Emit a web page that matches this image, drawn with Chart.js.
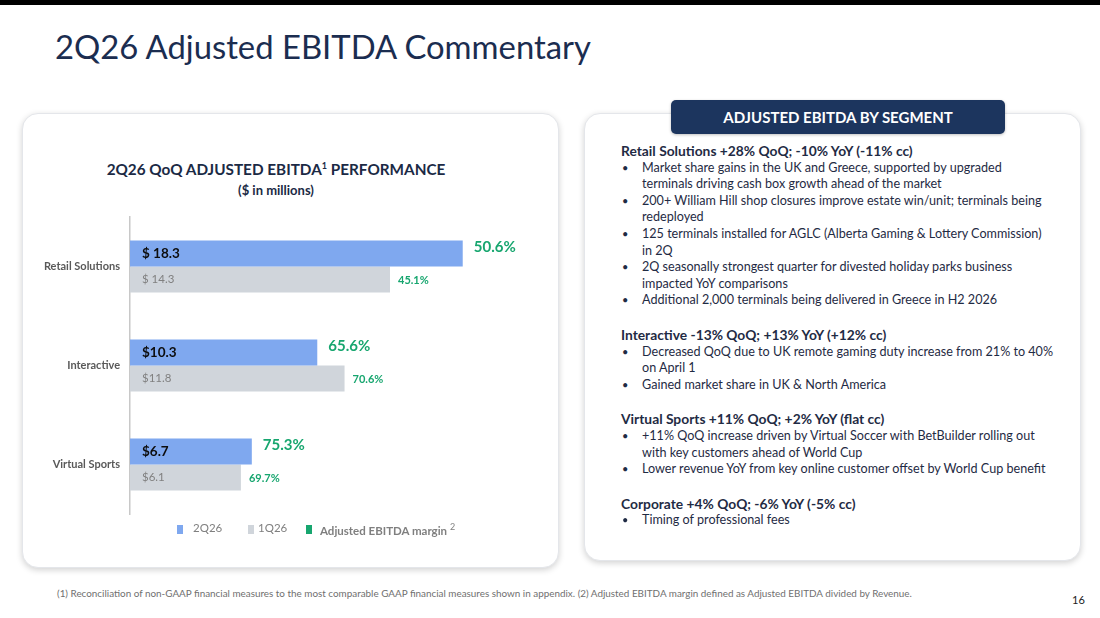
<!DOCTYPE html>
<html>
<head>
<meta charset="utf-8">
<script src="https://cdn.jsdelivr.net/npm/chart.js@4.4.1/dist/chart.umd.min.js"></script>
<style>
  body { margin: 0; width: 1100px; height: 618px; background: #fff; position: relative; overflow: hidden; font-family: Lato, "Open Sans", sans-serif; }
  .topbar { position: absolute; left: 0; top: 0; width: 1100px; height: 5px; background: #000; }
  .title { position: absolute; left: 55px; top: 27px; font-size: 32.8px; color: #1b2d50; white-space: nowrap; }
  .card { position: absolute; background: #fff; border: 1px solid #e4e6ea; border-radius: 16px; box-shadow: 0 2px 6px rgba(0,0,0,0.18); }
  #left { left: 22px; top: 113px; width: 535px; height: 453px; }
  #right { left: 584px; top: 113px; width: 495px; height: 446px; }
  .hdr { position: absolute; left: 671px; top: 100px; width: 334px; height: 34px; background: #1c355e; border-radius: 5px; color: #fff; font-weight: bold; font-size: 15px; text-align: center; line-height: 34px; box-shadow: 0 1px 3px rgba(0,0,0,0.25); }
  .ctitle { position: absolute; left: 76px; width: 400px; text-align: center; color: #1b2a45; font-weight: bold; white-space: nowrap; }
  .ctitle sup { font-size: 9px; }
  #wrap { position: absolute; left: 22px; top: 113px; width: 536px; height: 454px; }
  .leg { position: absolute; top: 521px; font-size: 11.5px; color: #7f7f7f; white-space: nowrap; }
  .sq { position: absolute; top: 525px; width: 6px; height: 9px; }
  .txt { position: absolute; left: 621px; top: 143px; font-size: 12.6px; color: #1f2b44; line-height: 16.6px; white-space: nowrap; }
  .txt .h { font-weight: bold; font-size: 13.8px; }
  .txt .b { position: relative; padding-left: 21px; }
  .txt .b::before { content: "\2022"; position: absolute; left: 1px; font-size: 11px; }
  .txt .gap { height: 18px; }
  .foot { position: absolute; left: 57px; top: 587px; font-size: 9.9px; color: #6f6f6f; white-space: nowrap; }
  .pg { position: absolute; left: 1072px; top: 593px; font-size: 11px; color: #222; }
</style>
</head>
<body>
<div class="topbar"></div>
<div class="title">2Q26 Adjusted EBITDA Commentary</div>

<div class="card" id="left"></div>
<div class="card" id="right"></div>
<div class="hdr">ADJUSTED EBITDA BY SEGMENT</div>

<div class="ctitle" style="top:160px;font-size:15.3px;">2Q26 QoQ ADJUSTED EBITDA<sup>1</sup> PERFORMANCE</div>
<div class="ctitle" style="top:182px;font-size:13px;">($ in millions)</div>

<div id="wrap"><canvas id="chart"></canvas></div>

<div class="sq" style="left:177px;background:#7fa8ef;"></div>
<div class="leg" style="left:193px;">2Q26</div>
<div class="sq" style="left:248px;background:#d0d5db;"></div>
<div class="leg" style="left:258px;">1Q26</div>
<div class="sq" style="left:306px;background:#17a66f;"></div>
<div class="leg" style="left:320px;font-weight:bold;">Adjusted EBITDA margin<sup style="font-weight:normal;font-size:9px;margin-left:3px;">2</sup></div>

<div class="txt">
  <div class="h">Retail Solutions +28% QoQ; -10% YoY (-11% cc)</div>
  <div class="b">Market share gains in the UK and Greece, supported by upgraded<br>terminals driving cash box growth ahead of the market</div>
  <div class="b">200+ William Hill shop closures improve estate win/unit; terminals being<br>redeployed</div>
  <div class="b">125 terminals installed for AGLC (Alberta Gaming &amp; Lottery Commission)<br>in 2Q</div>
  <div class="b">2Q seasonally strongest quarter for divested holiday parks business<br>impacted YoY comparisons</div>
  <div class="b">Additional 2,000 terminals being delivered in Greece in H2 2026</div>
  <div class="gap"></div>
  <div class="h">Interactive -13% QoQ; +13% YoY (+12% cc)</div>
  <div class="b">Decreased QoQ due to UK remote gaming duty increase from 21% to 40%<br>on April 1</div>
  <div class="b">Gained market share in UK &amp; North America</div>
  <div class="gap"></div>
  <div class="h">Virtual Sports +11% QoQ; +2% YoY (flat cc)</div>
  <div class="b">+11% QoQ increase driven by Virtual Soccer with BetBuilder rolling out<br>with key customers ahead of World Cup</div>
  <div class="b">Lower revenue YoY from key online customer offset by World Cup benefit</div>
  <div class="gap"></div>
  <div class="h">Corporate +4% QoQ; -6% YoY (-5% cc)</div>
  <div class="b">Timing of professional fees</div>
</div>

<div class="foot">(1) Reconciliation of non-GAAP financial measures to the most comparable GAAP financial measures shown in appendix. (2) Adjusted EBITDA margin defined as Adjusted EBITDA divided by Revenue.</div>
<div class="pg">16</div>

<script>
// segments and values ($ in millions)
const segments = ['Retail Solutions', 'Interactive', 'Virtual Sports'];
const ebitda2Q26 = [18.3, 10.3, 6.7];
const ebitda1Q26 = [14.3, 11.8, 6.1];
const labels2Q26 = ['$ 18.3', '$10.3', '$6.7'];
const labels1Q26 = ['$ 14.3', '$11.8', '$6.1'];
const margin2Q26 = [50.6, 65.6, 75.3];
const margin1Q26 = [45.1, 70.6, 69.7];

const GREEN = '#17a66f';
const FONT = 'Lato, "Open Sans", sans-serif';

// draws $ values inside bars and margins past the bar ends
const barLabels = {
  id: 'barLabels',
  afterDatasetsDraw(chart) {
    const ctx = chart.ctx;
    ctx.save();
    ctx.textBaseline = 'middle';
    ctx.textAlign = 'left';
    chart.getDatasetMeta(0).data.forEach((bar, i) => {
      ctx.font = 'bold 13.5px ' + FONT;
      ctx.fillStyle = '#0d0d0d';
      ctx.fillText(labels2Q26[i], bar.base + 12, bar.y);
      ctx.font = 'bold 15px ' + FONT;
      ctx.fillStyle = GREEN;
      ctx.fillText(margin2Q26[i].toFixed(1) + '%', bar.x + 11, bar.y - 6);
    });
    chart.getDatasetMeta(1).data.forEach((bar, i) => {
      ctx.font = '11.5px ' + FONT;
      ctx.fillStyle = '#808080';
      ctx.fillText(labels1Q26[i], bar.base + 12, bar.y);
      ctx.font = 'bold 11px ' + FONT;
      ctx.fillStyle = GREEN;
      ctx.fillText(margin1Q26[i].toFixed(1) + '%', bar.x + 8, bar.y + 1);
    });
    ctx.restore();
  }
};

new Chart(document.getElementById('chart'), {
  type: 'bar',
  data: {
    labels: segments,
    datasets: [
      { label: '2Q26', data: ebitda2Q26, backgroundColor: '#7fa8ef' },
      { label: '1Q26', data: ebitda1Q26, backgroundColor: '#d0d5db' }
    ]
  },
  options: {
    indexAxis: 'y',
    responsive: true,
    maintainAspectRatio: false,
    animation: false,
    datasets: { bar: { categoryPercentage: 0.525, barPercentage: 1.0 } },
    layout: { padding: { left: 0, right: 28, top: 104, bottom: 53 } },
    plugins: { legend: { display: false }, tooltip: { enabled: false } },
    scales: {
      x: { display: false, min: 0, max: 22 },
      y: {
        afterFit: (s) => { s.width = 108; },
        grid: { display: false },
        border: { display: true, color: '#c8c8c8', width: 1.5 },
        ticks: { color: '#595959', padding: 2, font: { family: FONT, size: 11, weight: 'bold' } }
      }
    }
  },
  plugins: [barLabels]
});
</script>
</body>
</html>
